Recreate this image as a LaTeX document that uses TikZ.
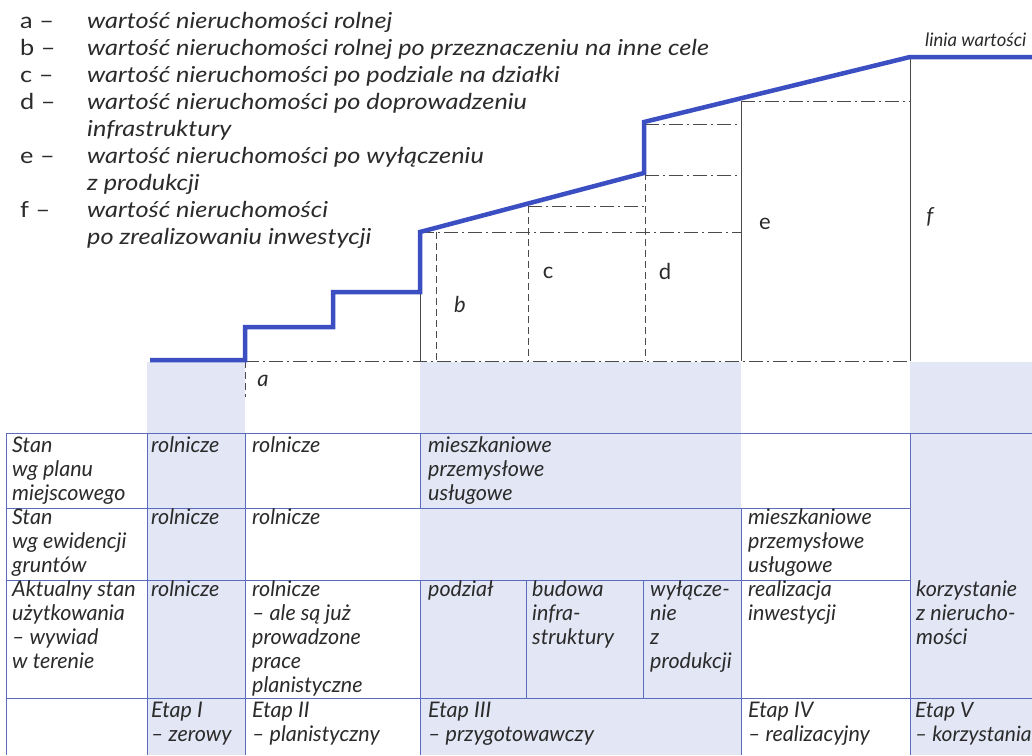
\documentclass[tikz,border=0pt]{standalone}
\usepackage{fontspec}
\setmainfont{Lato}
\newfontfamily\widelato{Lato}[FakeStretch=1.15]
\definecolor{valueblue}{HTML}{3B4FC2}
\definecolor{stageshade}{HTML}{E3E6F5}
\definecolor{gridblue}{HTML}{5B6BBF}
\definecolor{ink}{HTML}{2B2B2B}
\definecolor{guide}{HTML}{4A4A4A}
\newcommand\legendfont{\widelato\fontsize{22}{27}\selectfont}
\newcommand\cellfont{\fontsize{21.5}{24}\selectfont\itshape}
\begin{document}
\begin{tikzpicture}[x=1pt,y=-1pt,
  valueline/.style={draw=valueblue,line width=4.5pt,line join=miter},
  guideline/.style={draw=guide,line width=1pt},
  dashdotline/.style={guideline,dash pattern=on 14pt off 4pt on 2pt off 4pt},
  dashline/.style={guideline,dash pattern=on 7pt off 4pt},
  gridline/.style={draw=gridblue,line width=0.9pt},
  cell/.style={inner sep=0pt,anchor=base west,align=left,text=ink,font=\cellfont},
  legend/.style={inner sep=0pt,anchor=base west,align=left,text=ink,font=\legendfont},
  marklabel/.style={inner sep=0pt,text=ink,font=\fontsize{22}{26}\selectfont}]

% page frame
\fill[white] (0,0) rectangle (1032,755);
\useasboundingbox (0,0) rectangle (1032,755);

% shaded stage columns
\fill[stageshade] (147,362) rectangle (245,755);
\fill[stageshade] (420,362) rectangle (741,755);
\fill[stageshade] (910,362) rectangle (1032,755);

% legend (anchored at the baseline of the last line)
\node[legend] (keys) at (20,217) {a –\\b –\\c –\\d –\\[27pt]e –\\[27pt]f –};
\node[legend,font=\legendfont\itshape] (keytext) at (87,244) {wartość nieruchomości rolnej\\
wartość nieruchomości rolnej po przeznaczeniu na inne cele\\
wartość nieruchomości po podziale na działki\\
wartość nieruchomości po doprowadzeniu\\
infrastruktury\\
wartość nieruchomości po wyłączeniu\\
z produkcji\\
wartość nieruchomości\\
po zrealizowaniu inwestycji};

% guide lines under the value line
\draw[dashdotline] (245,361) -- (910,361);
\draw[dashline] (245,361) -- (245,397);
\draw[guideline] (420,292) -- (420,361);
\draw[dashline] (436,232) -- (436,361);
\draw[dashdotline] (420,232) -- (741,232);
\draw[dashline] (528,206) -- (528,361);
\draw[dashdotline] (528,206) -- (645,206);
\draw[dashline] (645,173) -- (645,361);
\draw[dashdotline] (645,175) -- (741,175);
\draw[dashdotline] (645,124) -- (741,124);
\draw[guideline] (741,101) -- (741,361);
\draw[dashdotline] (741,101) -- (910,101);
\draw[guideline] (910,57) -- (910,361);

% value line
\coordinate (v0) at (150,360);
\coordinate (v1) at (245,360);
\coordinate (v2) at (245,327);
\coordinate (v3) at (333,327);
\coordinate (v4) at (333,292);
\coordinate (v5) at (420,292);
\coordinate (v6) at (420,232);
\coordinate (v7) at (644,173);
\coordinate (v8) at (644,122);
\coordinate (v9) at (910,57);
\coordinate (v10) at (1032,57);
\draw[valueline] (v0) -- (v1) -- (v2) -- (v3) -- (v4) -- (v5) -- (v6) -- (v7) -- (v8) -- (v9) -- (v10);
\node[inner sep=0pt,anchor=base west,text=ink,font=\fontsize{18.5}{20}\selectfont\itshape] (vlabel) at (925,46) {linia wartości};

% segment letters
\node[marklabel,font=\fontsize{22}{26}\selectfont\itshape] (la) at (263,381) {a};
\node[marklabel,font=\fontsize{22}{26}\selectfont\itshape] (lb) at (460,304) {b};
\node[marklabel] (lc) at (548,273) {c};
\node[marklabel] (ld) at (665,271) {d};
\node[marklabel] (le) at (765,224) {e};
\node[marklabel,font=\fontsize{22}{26}\selectfont\itshape] (lf) at (930,217) {f};

% table grid
\draw[gridline] (6,433) -- (1032,433);
\draw[gridline] (6,508) -- (910,508);
\draw[gridline] (6,580) -- (910,580);
\draw[gridline] (6,698) -- (1032,698);
\draw[gridline] (6,433) -- (6,755);
\draw[gridline] (147,433) -- (147,755);
\draw[gridline] (245,433) -- (245,755);
\draw[gridline] (420,433) -- (420,508);
\draw[gridline] (420,580) -- (420,755);
\draw[gridline] (526,580) -- (526,698);
\draw[gridline] (643,580) -- (643,698);
\draw[gridline] (741,508) -- (741,755);
\draw[gridline] (910,433) -- (910,755);

% cells are anchored at the baseline of their last line
% row: local plan
\node[cell] (r1c0) at (12,500) {Stan\\wg planu\\miejscowego};
\node[cell] (r1c1) at (151,452) {rolnicze};
\node[cell] (r1c2) at (252,452) {rolnicze};
\node[cell] (r1c3) at (428,500) {mieszkaniowe\\przemysłowe\\usługowe};

% row: land register
\node[cell] (r2c0) at (12,572) {Stan\\wg ewidencji\\gruntów};
\node[cell] (r2c1) at (151,524) {rolnicze};
\node[cell] (r2c2) at (252,524) {rolnicze};
\node[cell] (r2c4) at (748,572) {mieszkaniowe\\przemysłowe\\usługowe};

% row: current use
\node[cell] (r3c0) at (12,668) {Aktualny stan\\użytkowania\\– wywiad\\w terenie};
\node[cell] (r3c1) at (151,596) {rolnicze};
\node[cell] (r3c2) at (252,692) {rolnicze\\– ale są już\\prowadzone\\prace\\planistyczne};
\node[cell] (r3c3a) at (428,596) {podział};
\node[cell] (r3c3b) at (532,644) {budowa\\infra-\\struktury};
\node[cell] (r3c3c) at (650,668) {wyłącze-\\nie\\z\\produkcji};
\node[cell] (r3c4) at (748,620) {realizacja\\inwestycji};
\node[cell] (r3c5) at (916,644) {korzystanie\\z nierucho-\\mości};

% row: stages
\node[cell] (r4c1) at (151,741) {Etap I\\– zerowy};
\node[cell] (r4c2) at (252,741) {Etap II\\– planistyczny};
\node[cell] (r4c3) at (428,741) {Etap III\\– przygotowawczy};
\node[cell] (r4c4) at (748,741) {Etap IV\\– realizacyjny};
\node[cell,font=\fontsize{21}{24}\selectfont\itshape] (r4c5) at (915,741) {Etap V\\– korzystania};
\end{tikzpicture}
\end{document}
